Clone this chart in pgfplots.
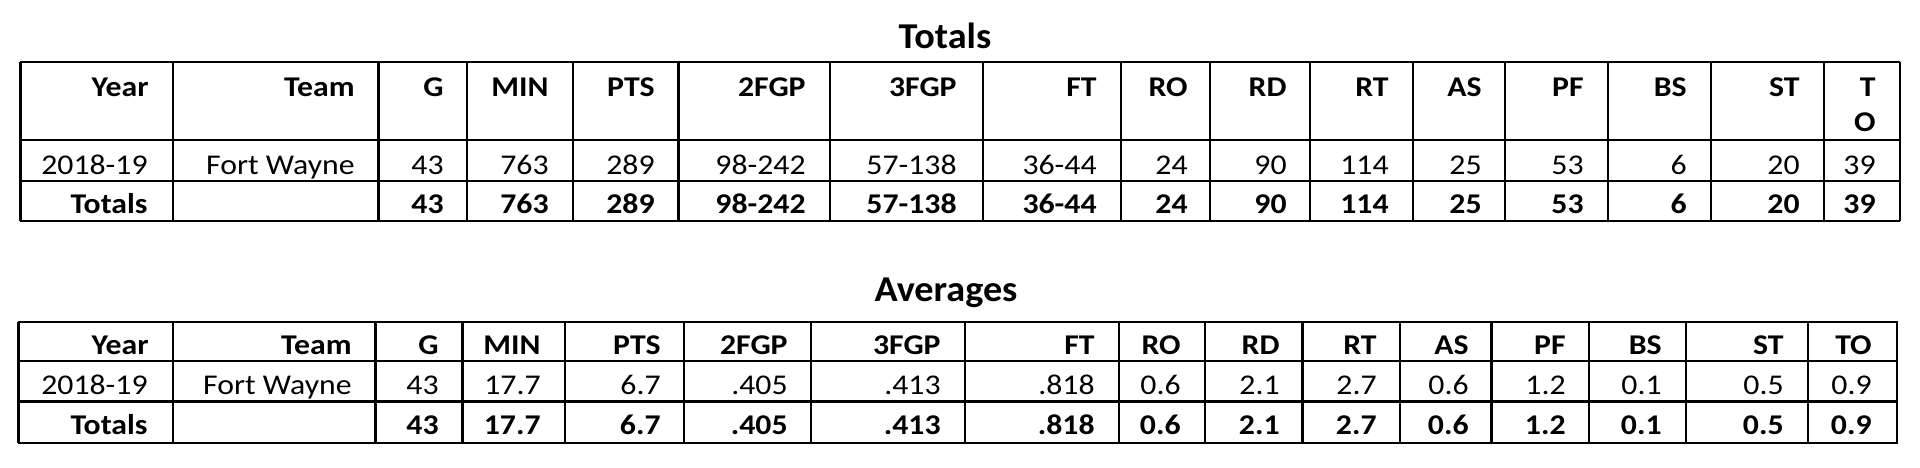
\documentclass[border=0pt]{standalone}
\usepackage{pgfplots}
\pgfplotsset{compat=1.18}
\usepackage{fontspec}
\setmainfont{Carlito}[FakeStretch=1.11]
\newfontfamily\titlefont{Carlito}[FakeStretch=1.05]
\newcommand{\cf}{\fontsize{14.3}{17}\selectfont}
\newcommand{\cell}[3]{\node[anchor=base east,inner sep=0pt,font=\cf] at (axis cs:#1,#2) {#3};}
\newcommand{\bcell}[3]{\node[anchor=base east,inner sep=0pt,font=\cf\bfseries] at (axis cs:#1,#2) {#3};}
\begin{document}
\begin{tikzpicture}
\begin{axis}[
  scale only axis, width=960pt, height=233.5pt,
  xmin=0, xmax=1920, ymin=0, ymax=467, y dir=reverse,
  hide axis, clip=false
]
\path (axis cs:0,0) rectangle (axis cs:1920,467);
% ---------- Totals table ----------
\node[anchor=base,inner sep=0pt,font=\titlefont\fontsize{18.2}{22}\selectfont\bfseries] at (axis cs:945,48) {Totals};
\pgfplotsinvokeforeach{61.7,140,181.2,221}{
  \draw[line width=1.1pt] (axis cs:19.9,#1) -- (axis cs:1900.1,#1);
}
\pgfplotsinvokeforeach{20.5,172.7,378.4,467.2,573.1,678.5,829.7,983,1121,1210.3,1310.3,1412.9,1504.9,1607.8,1710.6,1824.1,1899.6}{
  \draw[line width=1.1pt] (axis cs:#1,61.7) -- (axis cs:#1,221);
}
% header
\bcell{149}{96}{Year}\bcell{355}{96}{Team}\bcell{444}{96}{G}\bcell{549}{96}{MIN}
\bcell{655}{96}{PTS}\bcell{806}{96}{2FGP}\bcell{957}{96}{3FGP}\bcell{1097}{96}{FT}
\bcell{1188}{96}{RO}\bcell{1287}{96}{RD}\bcell{1389}{96}{RT}\bcell{1482}{96}{AS}
\bcell{1584}{96}{PF}\bcell{1687}{96}{BS}\bcell{1800}{96}{ST}\bcell{1876}{96}{T}
\bcell{1876}{131.5}{O}
% row 1
\cell{148}{174}{2018-19}\cell{355}{174}{Fort Wayne}\cell{444}{174}{43}\cell{549}{174}{763}
\cell{655}{174}{289}\cell{806}{174}{98-242}\cell{957}{174}{57-138}\cell{1097}{174}{36-44}
\cell{1188}{174}{24}\cell{1287}{174}{90}\cell{1389}{174}{114}\cell{1482}{174}{25}
\cell{1584}{174}{53}\cell{1687}{174}{6}\cell{1800}{174}{20}\cell{1876}{174}{39}
% row 2
\bcell{148}{213.5}{Totals}\bcell{444}{213.5}{43}\bcell{549}{213.5}{763}
\bcell{655}{213.5}{289}\bcell{806}{213.5}{98-242}\bcell{957}{213.5}{57-138}\bcell{1097}{213.5}{36-44}
\bcell{1188}{213.5}{24}\bcell{1287}{213.5}{90}\bcell{1389}{213.5}{114}\bcell{1482}{213.5}{25}
\bcell{1584}{213.5}{53}\bcell{1687}{213.5}{6}\bcell{1800}{213.5}{20}\bcell{1876}{213.5}{39}
% ---------- Averages table ----------
\node[anchor=base,inner sep=0pt,font=\titlefont\fontsize{18.2}{22}\selectfont\bfseries] at (axis cs:946,301.5) {Averages};
\pgfplotsinvokeforeach{322,361.2,401.5,442.7}{
  \draw[line width=1.1pt] (axis cs:17.9,#1) -- (axis cs:1897.6,#1);
}
\pgfplotsinvokeforeach{18.4,172.7,375.5,462.4,565.3,683.7,810.9,965.2,1118.8,1205.3,1302.4,1399.6,1491.4,1589,1686,1807.8,1897.1}{
  \draw[line width=1.1pt] (axis cs:#1,322) -- (axis cs:#1,442.7);
}
% header
\bcell{149}{354}{Year}\bcell{352}{354}{Team}\bcell{439}{354}{G}\bcell{541}{354}{MIN}
\bcell{661}{354}{PTS}\bcell{788}{354}{2FGP}\bcell{941}{354}{3FGP}\bcell{1095}{354}{FT}
\bcell{1181}{354}{RO}\bcell{1280}{354}{RD}\bcell{1377}{354}{RT}\bcell{1469}{354}{AS}
\bcell{1566}{354}{PF}\bcell{1662}{354}{BS}\bcell{1784}{354}{ST}\bcell{1872}{354}{TO}
% row 1
\cell{148}{394}{2018-19}\cell{352}{394}{Fort Wayne}\cell{439}{394}{43}\cell{541}{394}{17.7}
\cell{661}{394}{6.7}\cell{788}{394}{.405}\cell{941}{394}{.413}\cell{1095}{394}{.818}
\cell{1181}{394}{0.6}\cell{1280}{394}{2.1}\cell{1377}{394}{2.7}\cell{1469}{394}{0.6}
\cell{1566}{394}{1.2}\cell{1662}{394}{0.1}\cell{1784}{394}{0.5}\cell{1872}{394}{0.9}
% row 2
\bcell{148}{434}{Totals}\bcell{439}{434}{43}\bcell{541}{434}{17.7}
\bcell{661}{434}{6.7}\bcell{788}{434}{.405}\bcell{941}{434}{.413}\bcell{1095}{434}{.818}
\bcell{1181}{434}{0.6}\bcell{1280}{434}{2.1}\bcell{1377}{434}{2.7}\bcell{1469}{434}{0.6}
\bcell{1566}{434}{1.2}\bcell{1662}{434}{0.1}\bcell{1784}{434}{0.5}\bcell{1872}{434}{0.9}
\end{axis}
\end{tikzpicture}
\end{document}
